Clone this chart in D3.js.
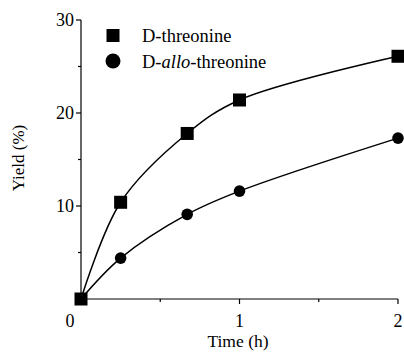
<!DOCTYPE html>
<html>
<head>
<meta charset="utf-8">
<script src="https://cdn.jsdelivr.net/npm/d3@7"></script>
<style>
  body { margin: 0; background: #fff; }
  svg { display: block; }
</style>
</head>
<body>
<div id="chart"></div>
<script>
// data
const timeHours = [0, 0.25, 0.67, 1, 2];
const threonineYield = [0, 10.4, 17.8, 21.4, 26.1];
const alloThreonineYield = [0, 4.4, 9.1, 11.6, 17.3];
const xTickValues = [0, 1, 2];
const yTickValues = [10, 20, 30];

const width = 404;
const height = 356;
const font = "'Liberation Serif', 'Times New Roman', serif";

const svg = d3.select('#chart').append('svg')
  .attr('width', width)
  .attr('height', height);

const x = d3.scaleLinear().domain([0, 2]).range([81, 398]);
const y = d3.scaleLinear().domain([0, 30]).range([299, 20]);

// #region axes
const axes = svg.append('g')
  .attr('fill', 'none')
  .attr('stroke', '#000')
  .attr('stroke-width', 1.2);

axes.append('line')
  .attr('x1', x(0)).attr('x2', x(2))
  .attr('y1', y(0)).attr('y2', y(0));
axes.append('line')
  .attr('x1', x(0)).attr('x2', x(0))
  .attr('y1', y(0)).attr('y2', y(30));

// x ticks: major at whole hours, minor at the halves
axes.selectAll('.xtick')
  .data(d3.range(0.5, 2.01, 0.5))
  .join('line')
  .attr('x1', d => x(d)).attr('x2', d => x(d))
  .attr('y1', y(0))
  .attr('y2', d => y(0) + (d % 1 === 0 ? 5 : 3));

// y ticks: major every 10, minor every 5
axes.selectAll('.ytick')
  .data(d3.range(5, 30.01, 5))
  .join('line')
  .attr('y1', d => y(d)).attr('y2', d => y(d))
  .attr('x1', x(0))
  .attr('x2', d => x(0) - (d % 10 === 0 ? 5 : 3));

svg.selectAll('.xlabel')
  .data(xTickValues)
  .join('text')
  .attr('x', d => (d === 0 ? x(d) - 11 : x(d)))
  .attr('y', y(0) + 28)
  .attr('text-anchor', 'middle')
  .style('font-family', font)
  .style('font-size', '18px')
  .text(d => d);

svg.selectAll('.ylabel')
  .data(yTickValues)
  .join('text')
  .attr('x', x(0) - 7)
  .attr('y', d => y(d) + 6)
  .attr('text-anchor', 'end')
  .style('font-family', font)
  .style('font-size', '18px')
  .text(d => d);

svg.append('text')
  .attr('x', 238)
  .attr('y', 347)
  .attr('text-anchor', 'middle')
  .style('font-family', font)
  .style('font-size', '17.5px')
  .text('Time (h)');

svg.append('text')
  .attr('transform', 'translate(24, 158) rotate(-90)')
  .attr('text-anchor', 'middle')
  .style('font-family', font)
  .style('font-size', '17px')
  .text('Yield (%)');
// #endregion

// #region curves and markers
const line = d3.line()
  .x((d, i) => x(timeHours[i]))
  .y(d => y(d))
  .curve(d3.curveCatmullRom.alpha(0.5));

[threonineYield, alloThreonineYield].forEach(series => {
  svg.append('path')
    .attr('d', line(series))
    .attr('fill', 'none')
    .attr('stroke', '#000')
    .attr('stroke-width', 1.5);
});

svg.selectAll('.circle')
  .data(alloThreonineYield)
  .join('circle')
  .attr('cx', (d, i) => x(timeHours[i]))
  .attr('cy', d => y(d))
  .attr('r', 5.8)
  .attr('fill', '#000');

svg.selectAll('.square')
  .data(threonineYield)
  .join('rect')
  .attr('x', (d, i) => x(timeHours[i]) - 6.5)
  .attr('y', d => y(d) - 6.5)
  .attr('width', 13)
  .attr('height', 13)
  .attr('fill', '#000');
// #endregion

// #region legend
const legend = svg.append('g').attr('transform', 'translate(113, 0)');

legend.append('rect')
  .attr('x', -6.5).attr('y', 29)
  .attr('width', 13).attr('height', 13)
  .attr('fill', '#000');
legend.append('circle')
  .attr('cx', 0).attr('cy', 61)
  .attr('r', 7.5)
  .attr('fill', '#000');

legend.append('text')
  .attr('x', 29).attr('y', 42)
  .style('font-family', font)
  .style('font-size', '18.5px')
  .text('D-threonine');

const allo = legend.append('text')
  .attr('x', 29).attr('y', 68)
  .style('font-family', font)
  .style('font-size', '18.5px');
allo.append('tspan').text('D-');
allo.append('tspan').style('font-style', 'italic').text('allo');
allo.append('tspan').text('-threonine');
// #endregion
</script>
</body>
</html>
